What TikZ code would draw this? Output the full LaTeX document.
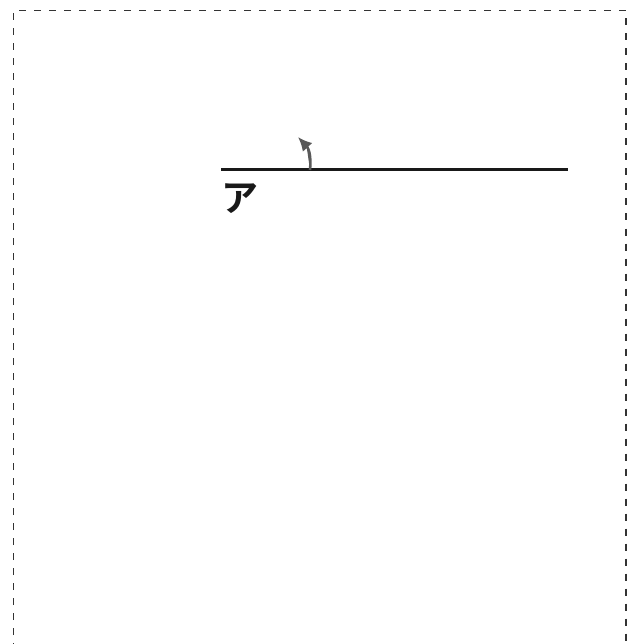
\documentclass[tikz,border=0pt]{standalone}
\usepackage{fontspec}
\newfontfamily\cjk{Noto Sans CJK JP Bold}
\usetikzlibrary{arrows.meta}
\tikzset{
  frameline/.style={draw=black!80, line width=1.2pt, dash pattern=on 7pt off 8pt},
  barline/.style={line width=3pt, draw=black!90},
  turnarrow/.style={-{Latex[length=14pt,width=13pt]}, line width=2.6pt, draw=black!65, fill=black!65},
  kanalabel/.style={inner sep=0pt, anchor=north west, font=\cjk\fontsize{37}{37}\selectfont, text=black!90}
}
\begin{document}
\begin{tikzpicture}[x=1pt,y=-1pt]
  \useasboundingbox (0,0) rectangle (635,644);
  % frame
  \coordinate (fbl) at (13.5,650);
  \coordinate (ftl) at (13.5,10.5);
  \coordinate (ftr) at (626,10.5);
  \coordinate (fbr) at (626,650);
  \draw[frameline] (fbl) -- (ftl) -- (ftr) -- (fbr);

  % bar with turning arrow
  \coordinate (barL) at (221,170);
  \coordinate (barR) at (568,170);
  \draw[barline] (barL) -- (barR);
  \coordinate (pivot) at (310,170);
  \coordinate (tip) at (298,137);
  \draw[turnarrow] (pivot) .. controls (311,160) and (310,150) .. (tip);

  \node[kanalabel] (kana) at (221,183) {ア};
\end{tikzpicture}
\end{document}
